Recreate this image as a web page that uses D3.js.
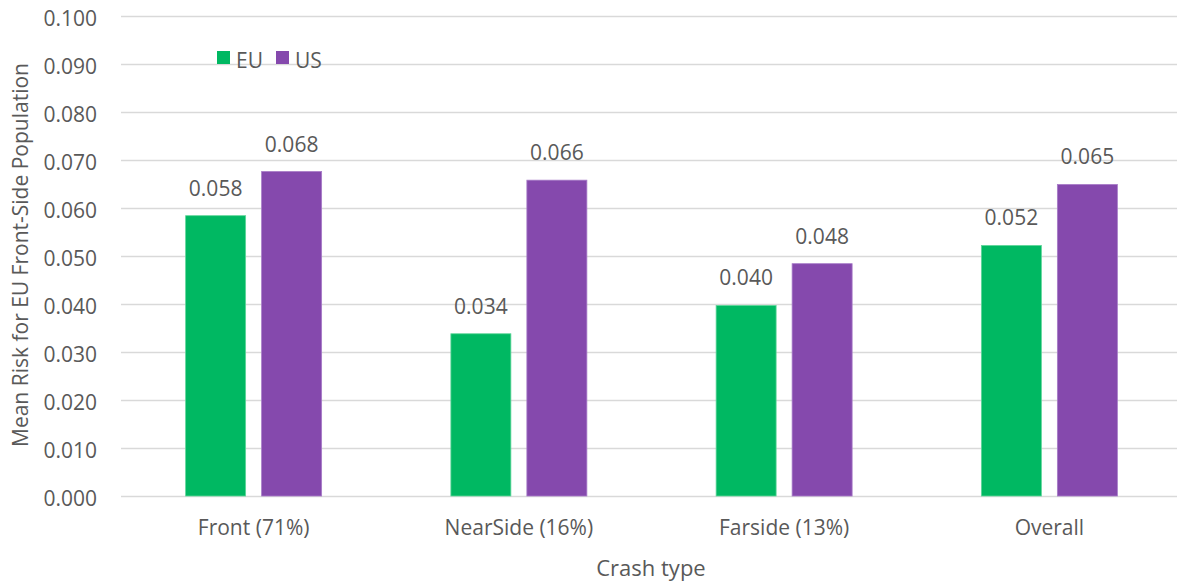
<!DOCTYPE html>
<html>
<head>
<meta charset="utf-8">
<script src="https://cdn.jsdelivr.net/npm/d3@7"></script>
<style>
  html, body { margin: 0; padding: 0; background: #fff; }
  svg { display: block; }
  text { font-family: "Open Sans", sans-serif; fill: #595959; }
</style>
</head>
<body>
<svg id="chart" width="1177" height="584"></svg>
<script>
const categories = ["Front (71%)", "NearSide (16%)", "Farside (13%)", "Overall"];
const seriesNames = ["EU", "US"];
const euValues = [0.0584, 0.0338, 0.0397, 0.0522];
const usValues = [0.0676, 0.0658, 0.0484, 0.0649];
const yTicks = [0, 0.01, 0.02, 0.03, 0.04, 0.05, 0.06, 0.07, 0.08, 0.09, 0.10];
const colors = { EU: "#00b862", US: "#8549ad" };
const strokes = { EU: "#5fd69a", US: "#a77bc8" };

const svg = d3.select("#chart");
const fs = 21;

const x0 = d3.scaleBand().domain(categories).range([121, 1182]).paddingInner(0).paddingOuter(0);
const bw = x0.bandwidth();
const x1 = d3.scaleBand().domain(seriesNames).range([bw / 2 - 68, bw / 2 + 68]).paddingInner(16 / 76).paddingOuter(0);
const y = d3.scaleLinear().domain([0, 0.1]).range([496, 16]);

// y axis tick labels
const yAxis = d3.axisLeft(y).tickValues(yTicks).tickFormat(d3.format(".3f")).tickSize(0).tickPadding(0);
const gy = svg.append("g").attr("transform", "translate(97,0)").call(yAxis);
gy.select(".domain").remove();
gy.selectAll("text").attr("font-size", fs).attr("fill", "#595959").attr("font-family", "Open Sans").attr("dy", "0.45em");

// gridlines
svg.append("g").selectAll("line").data(yTicks).join("line")
  .attr("x1", 121).attr("x2", 1177)
  .attr("y1", d => Math.round(y(d)) + 0.5).attr("y2", d => Math.round(y(d)) + 0.5)
  .attr("stroke", "#d9d9d9").attr("stroke-width", 1.5);

// bars
const data = categories.map((c, i) => ({ cat: c, vals: [{ s: "EU", v: euValues[i] }, { s: "US", v: usValues[i] }] }));
const groups = svg.append("g").selectAll("g").data(data).join("g")
  .attr("transform", d => `translate(${x0(d.cat)},0)`);
groups.selectAll("rect").data(d => d.vals).join("rect")
  .attr("x", d => x1(d.s)).attr("width", x1.bandwidth())
  .attr("y", d => y(d.v)).attr("height", d => y(0) - y(d.v))
  .attr("fill", d => colors[d.s]).attr("stroke", d => strokes[d.s]).attr("stroke-width", 0.8);
groups.selectAll("text.lbl").data(d => d.vals).join("text").attr("class", "lbl")
  .attr("x", d => x1(d.s) + x1.bandwidth() / 2)
  .attr("y", d => y(d.v) - 20)
  .attr("text-anchor", "middle").attr("font-size", fs)
  .text(d => d3.format(".3f")(d.v));

// x axis labels
const xAxis = d3.axisBottom(x0).tickSize(0).tickPadding(0);
const gx = svg.append("g").attr("transform", "translate(0,535)").call(xAxis);
gx.select(".domain").remove();
gx.selectAll("text").attr("font-size", fs).attr("fill", "#595959").attr("font-family", "Open Sans").attr("dy", 0);

// axis titles
svg.append("text").attr("x", 651).attr("y", 576).attr("text-anchor", "middle").attr("font-size", 22).text("Crash type");
svg.append("text").attr("transform", "translate(28,255) rotate(-90)").attr("text-anchor", "middle").attr("font-size", fs)
  .text("Mean Risk for EU Front-Side Population");

// legend
const leg = svg.append("g").attr("transform", "translate(217,51)");
const li = leg.selectAll("g").data(seriesNames).join("g").attr("transform", (d, i) => `translate(${i * 59},0)`);
li.append("rect").attr("width", 13).attr("height", 13).attr("fill", d => colors[d]);
li.append("text").attr("x", 19).attr("y", 17).attr("font-size", fs).text(d => d);
</script>
</body>
</html>
